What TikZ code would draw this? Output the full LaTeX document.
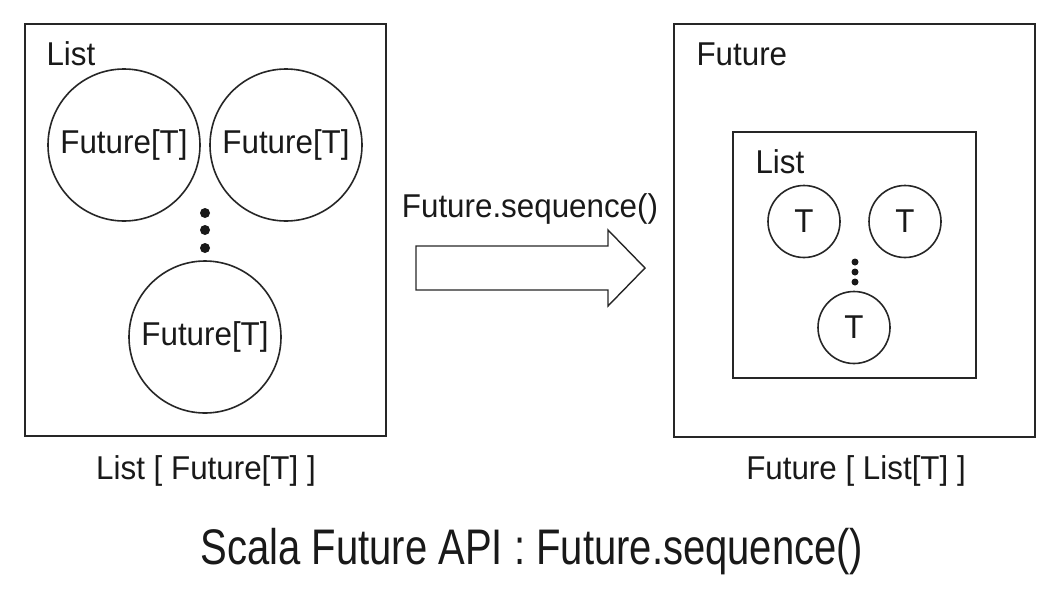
\documentclass[tikz,border=0pt]{standalone}
\usepackage{fontspec}
\setmainfont[FakeStretch=0.95]{Liberation Sans}
\newfontfamily\titlefont[FakeStretch=0.8]{Liberation Sans}
\usepackage{tikz}
\usetikzlibrary{positioning}

\begin{document}
\begin{tikzpicture}[x=1pt,y=-1pt,
    every node/.style={font=\fontsize{33}{38}\selectfont,text=black!90},
    box/.style={draw=black!85,rectangle,line width=2pt,inner sep=0pt},
    bigfut/.style={draw=black!85,circle,line width=1.6pt,inner sep=0pt,minimum size=152pt},
    smallt/.style={draw=black!85,circle,line width=1.6pt,inner sep=0pt,minimum size=72pt}]
    \useasboundingbox (0,0) rectangle (1059,592);

    \node[box,minimum width=361pt,minimum height=412pt] (listbox) at (205.5,230) {};
    \node[anchor=base west] (listlab) at (43,65) {List};
    \node[bigfut] (f1) at (124,145) {Future[T]};
    \node[bigfut] (f2) at (286,145) {Future[T]};
    \node[bigfut] (f3) at (205,337) {Future[T]};
    \foreach \y [count=\i] in {213,230,248}
      \node[circle,fill=black!90,inner sep=0pt,minimum size=10pt] (ldot\i) at (205,\y) {};

    \draw[line width=1.4pt,draw=black!85,line join=miter]
      (416,246) -- (608,246) -- (608,230) -- (645,268) -- (608,306) -- (608,290) -- (416,290) -- cycle;
    \node[anchor=base] (seqlab) at (530,217) {Future.sequence()};

    \node[box,minimum width=361pt,minimum height=413pt] (futbox) at (854.5,230.5) {};
    \node[anchor=base west] (futlab) at (693,65) {Future};
    \node[box,minimum width=243pt,minimum height=246pt] (innerbox) at (854.5,255) {};
    \node[anchor=base west] (innerlab) at (752,173) {List};
    \node[smallt] (t1) at (804,221.5) {T};
    \node[smallt] (t2) at (905,221.5) {T};
    \node[smallt] (t3) at (854,327.5) {T};
    \foreach \y [count=\i] in {262,272,282}
      \node[circle,fill=black!90,inner sep=0pt,minimum size=7pt] (rdot\i) at (855,\y) {};

    \node[anchor=base] (leftcap) at (206,479) {List [ Future[T] ]};
    \node[anchor=base] (rightcap) at (856,479) {Future [ List[T] ]};
    \node[anchor=base,font=\titlefont\fontsize{50}{56}\selectfont] (title) at (532,564) {Scala Future API : Future.sequence()};
  \end{tikzpicture}
\end{document}
